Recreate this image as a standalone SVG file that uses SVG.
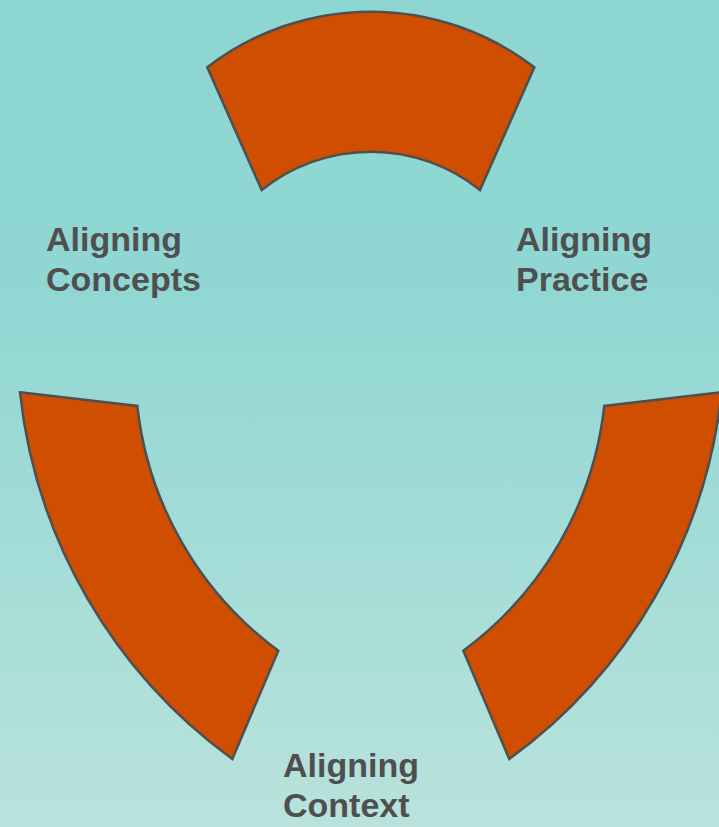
<svg xmlns="http://www.w3.org/2000/svg" width="719" height="827" viewBox="0 0 719 827">
  <defs>
    <linearGradient id="bg" x1="0" y1="0" x2="0" y2="1">
      <stop offset="0" stop-color="#8dd6d2"/>
      <stop offset="0.35" stop-color="#90d7d3"/>
      <stop offset="1" stop-color="#b9e2dc"/>
    </linearGradient>
    <style>
      .seg { fill: #d04e00; stroke: #4d4f50; stroke-width: 2.5; stroke-linejoin: miter; }
      .lbl { font-family: "Liberation Sans", Arial, sans-serif; font-weight: bold; font-size: 34px; fill: #4f4f4f; }
    </style>
  </defs>

  <rect x="0" y="0" width="719" height="827" fill="url(#bg)"/>

  <!-- top segment -->
  <g id="segment-top">
    <path class="seg" d="M 207.3,67.3 A 268 268 0 0 1 534.3,67.3 L 480,190 A 174.7 174.7 0 0 0 261.7,190 Z"/>
  </g>

  <!-- lower-left segment -->
  <g id="segment-left">
    <path class="seg" d="M 20,392.3 L 137.3,406 A 352 352 0 0 0 278.3,650.7 L 232.3,759 A 521.7 521.7 0 0 1 20,392.3 Z"/>
  </g>

  <!-- lower-right segment -->
  <g id="segment-right">
    <path class="seg" d="M 721.6,392.3 L 604.3,406 A 352 352 0 0 1 463.3,650.7 L 509.3,759 A 521.7 521.7 0 0 0 721.6,392.3 Z"/>
  </g>

  <g id="label-concepts">
    <text class="lbl" x="46" y="251">Aligning</text>
    <text class="lbl" x="46" y="291">Concepts</text>
  </g>

  <g id="label-practice">
    <text class="lbl" x="516" y="251">Aligning</text>
    <text class="lbl" x="516" y="291">Practice</text>
  </g>

  <g id="label-context">
    <text class="lbl" x="283" y="777">Aligning</text>
    <text class="lbl" x="283" y="817">Context</text>
  </g>
</svg>
